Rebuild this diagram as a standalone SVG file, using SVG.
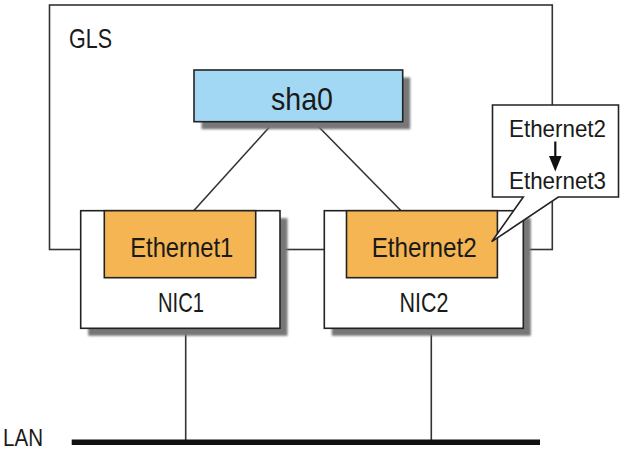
<svg xmlns="http://www.w3.org/2000/svg" width="620" height="451" viewBox="0 0 620 451">
<style>
.ln{stroke:#333;stroke-width:1.6;fill:none}
.box{stroke:#222;stroke-width:1.6}
.sh{fill:#777;filter:url(#blur)}
.t{font-family:"Liberation Sans",Arial,sans-serif;fill:#1a1a1a}
</style>
<defs>
<filter id="blur" x="-10%" y="-10%" width="120%" height="120%"><feGaussianBlur stdDeviation="1"/></filter>
</defs>
<rect width="620" height="451" fill="#fff"/>
<g id="gls">
<rect x="49.5" y="5" width="502.8" height="244.5" class="ln"/>
<text class="t" x="69" y="48" font-size="28" textLength="43" lengthAdjust="spacingAndGlyphs">GLS</text>
</g>
<g id="connectors">
<line x1="274" y1="122" x2="193.7" y2="210.7" class="ln"/>
<line x1="314" y1="122" x2="401" y2="210.7" class="ln"/>
<line x1="185.7" y1="328" x2="185.7" y2="442" class="ln"/>
<line x1="431.3" y1="328" x2="431.3" y2="442" class="ln"/>
</g>
<g id="sha0">
<rect x="201.5" y="77.5" width="208.7" height="51.7" class="sh"/>
<rect x="194" y="70" width="208.7" height="51.7" fill="#a3d8f4" class="box"/>
<text class="t" x="302" y="110" font-size="32" text-anchor="middle" textLength="62" lengthAdjust="spacingAndGlyphs">sha0</text>
</g>
<g id="nic1">
<rect x="88.2" y="218.2" width="199.3" height="117.6" class="sh"/>
<rect x="80.7" y="210.7" width="199.3" height="117.6" fill="#fff" class="box"/>
<text class="t" x="181" y="311.7" font-size="28" text-anchor="middle" textLength="46" lengthAdjust="spacingAndGlyphs">NIC1</text>
</g>
<g id="ethernet1">
<rect x="104.3" y="210.7" width="151.4" height="67" fill="#f5b553" class="box"/>
<text class="t" x="181.7" y="256.7" font-size="28" text-anchor="middle" textLength="103" lengthAdjust="spacingAndGlyphs">Ethernet1</text>
</g>
<g id="nic2">
<rect x="331.8" y="218.2" width="199" height="117.6" class="sh"/>
<rect x="324.3" y="210.7" width="199" height="117.6" fill="#fff" class="box"/>
<text class="t" x="424" y="311.7" font-size="28" text-anchor="middle" textLength="49" lengthAdjust="spacingAndGlyphs">NIC2</text>
</g>
<g id="ethernet2">
<rect x="346.5" y="210.7" width="150.9" height="67" fill="#f5b553" class="box"/>
<text class="t" x="424.2" y="256.7" font-size="28" text-anchor="middle" textLength="105" lengthAdjust="spacingAndGlyphs">Ethernet2</text>
</g>
<g id="callout">
<path d="M492.5,105 H618.5 V197 H558.3 L491.7,241.7 L523.3,197 H492.5 Z" fill="#fff" class="box"/>
<text class="t" x="557.5" y="136.7" font-size="24" text-anchor="middle" textLength="97" lengthAdjust="spacingAndGlyphs">Ethernet2</text>
<line x1="555.3" y1="141.5" x2="555.3" y2="158" stroke="#111" stroke-width="2.2"/>
<path d="M549,156 H561.6 L555.3,171.5 Z" fill="#111"/>
<text class="t" x="557.5" y="189.3" font-size="24" text-anchor="middle" textLength="97" lengthAdjust="spacingAndGlyphs">Ethernet3</text>
</g>
<g id="lan">
<line x1="71.7" y1="442.3" x2="540" y2="442.3" stroke="#111" stroke-width="5.5"/>
<text class="t" x="3" y="446" font-size="24" textLength="40" lengthAdjust="spacingAndGlyphs">LAN</text>
</g>
</svg>
